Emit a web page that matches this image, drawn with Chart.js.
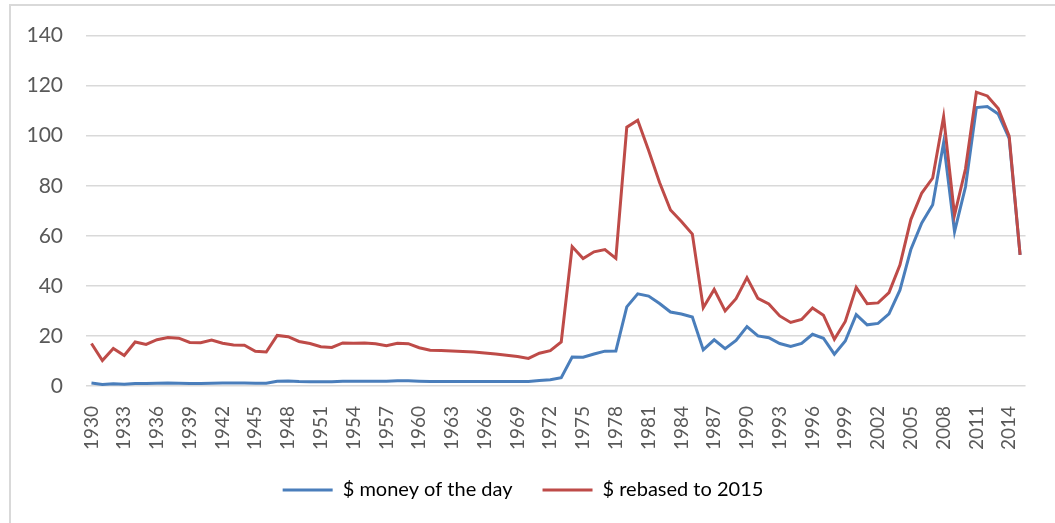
<!DOCTYPE html>
<html>
<head>
<meta charset="utf-8">
<script src="https://cdn.jsdelivr.net/npm/chart.js@4"></script>
<style>
  html, body { margin: 0; padding: 0; background: #fff; }
  #wrap { position: relative; width: 1055px; height: 523px; overflow: hidden; }
  #frame { position: absolute; left: 9px; top: 4px; width: 1100px; height: 600px;
           border-left: 2px solid #d9d9d9; border-top: 2px solid #d9d9d9; }
  #chart { position: absolute; left: 0; top: 0; }
</style>
</head>
<body>
<div id="wrap">
  <div id="frame"></div>
  <canvas id="chart" width="1055" height="523"></canvas>
</div>
<script>
// Years on the category axis
const years = [
  1930, 1931, 1932, 1933, 1934, 1935, 1936, 1937, 1938, 1939,
  1940, 1941, 1942, 1943, 1944, 1945, 1946, 1947, 1948, 1949,
  1950, 1951, 1952, 1953, 1954, 1955, 1956, 1957, 1958, 1959,
  1960, 1961, 1962, 1963, 1964, 1965, 1966, 1967, 1968, 1969,
  1970, 1971, 1972, 1973, 1974, 1975, 1976, 1977, 1978, 1979,
  1980, 1981, 1982, 1983, 1984, 1985, 1986, 1987, 1988, 1989,
  1990, 1991, 1992, 1993, 1994, 1995, 1996, 1997, 1998, 1999,
  2000, 2001, 2002, 2003, 2004, 2005, 2006, 2007, 2008, 2009,
  2010, 2011, 2012, 2013, 2014, 2015
];

// $ money of the day
const moneyOfDay = [
  1.19, 0.65, 0.87, 0.67, 1.00, 0.97, 1.09, 1.18, 1.13, 1.02,
  1.02, 1.14, 1.19, 1.20, 1.21, 1.05, 1.12, 1.90, 1.99, 1.78,
  1.71, 1.71, 1.71, 1.93, 1.93, 1.93, 1.93, 1.90, 2.08, 2.08,
  1.90, 1.80, 1.80, 1.80, 1.80, 1.80, 1.80, 1.80, 1.80, 1.80,
  1.80, 2.24, 2.48, 3.29, 11.58, 11.53, 12.80, 13.92, 14.02, 31.61,
  36.83, 35.93, 32.97, 29.55, 28.78, 27.56, 14.43, 18.44, 14.92, 18.23,
  23.73, 20.00, 19.32, 16.97, 15.82, 17.02, 20.67, 19.09, 12.72, 17.97,
  28.50, 24.44, 25.02, 28.83, 38.27, 54.52, 65.14, 72.39, 97.26, 61.67,
  79.50, 111.26, 111.67, 108.66, 98.95, 52.39
];

// $ rebased to 2015
const rebased2015 = [
  17.0, 10.2, 15.0, 12.2, 17.6, 16.6, 18.5, 19.4, 19.1, 17.4,
  17.3, 18.4, 17.1, 16.4, 16.3, 13.9, 13.6, 20.2, 19.7, 17.8,
  17.0, 15.7, 15.4, 17.2, 17.1, 17.2, 16.9, 16.1, 17.1, 16.9,
  15.3, 14.3, 14.2, 14.0, 13.8, 13.6, 13.2, 12.8, 12.3, 11.8,
  11.0, 13.1, 14.1, 17.6, 55.7, 50.9, 53.6, 54.5, 51.0, 103.4,
  106.2, 94.1, 81.3, 70.3, 65.7, 60.7, 31.3, 38.6, 30.0, 34.9,
  43.3, 35.0, 32.8, 28.0, 25.4, 26.6, 31.2, 28.3, 18.7, 25.8,
  39.4, 32.9, 33.2, 37.3, 48.3, 66.5, 77.1, 83.1, 107.6, 68.3,
  86.7, 117.4, 115.9, 110.9, 99.8, 52.4
];

// Value axis ticks
const yMin = 0;
const yMax = 140;
const yStep = 20;
const labelEvery = 3; // every third year is labelled

Chart.defaults.font.family = 'Lato, "Liberation Sans", sans-serif';
Chart.defaults.font.size = 20;
Chart.defaults.color = '#595959';

new Chart(document.getElementById('chart'), {
  type: 'line',
  data: {
    labels: years,
    datasets: [
      {
        label: '$ money of the day',
        data: moneyOfDay,
        borderColor: '#4a7ebb',
        backgroundColor: '#4a7ebb',
        borderWidth: 3,
        pointRadius: 0,
        tension: 0,
        order: 1
      },
      {
        label: '$ rebased to 2015',
        data: rebased2015,
        borderColor: '#be4b48',
        backgroundColor: '#be4b48',
        borderWidth: 3,
        pointRadius: 0,
        tension: 0,
        order: 0
      }
    ]
  },
  options: {
    responsive: false,
    animation: false,
    layout: { padding: { top: 33, right: 19, bottom: 13, left: 10 } },
    plugins: {
      tooltip: { enabled: false },
      legend: {
        position: 'bottom',
        labels: {
          boxWidth: 50,
          boxHeight: 3,
          padding: 30,
          sort: (a, b) => a.datasetIndex - b.datasetIndex,
          generateLabels: chart => chart.data.datasets.map((ds, i) => ({
            text: ds.label,
            fillStyle: ds.borderColor,
            strokeStyle: ds.borderColor,
            lineWidth: 0,
            datasetIndex: i,
            hidden: false
          }))
        }
      }
    },
    scales: {
      x: {
        offset: true,
        grid: { display: false },
        border: { display: false },
        ticks: {
          autoSkip: false,
          maxRotation: 90,
          minRotation: 90,
          padding: 12,
          font: { size: 19 },
          callback: function (value, index) {
            return index % labelEvery === 0 ? this.getLabelForValue(value) : '';
          }
        },
        afterFit: scale => { scale.height = 64; }
      },
      y: {
        min: yMin,
        max: yMax,
        ticks: { stepSize: yStep, padding: 23, font: { size: 21 } },
        grid: { color: '#d9d9d9', lineWidth: 1.5, drawTicks: false },
        border: { display: false },
        afterFit: scale => { scale.width = 76; }
      }
    }
  }
});
</script>
</body>
</html>
